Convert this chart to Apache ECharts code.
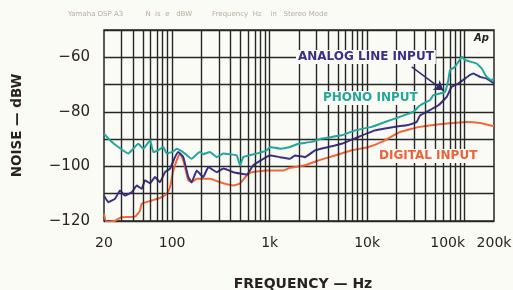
<!DOCTYPE html>
<html>
<head>
<meta charset="utf-8">
<script src="https://cdn.jsdelivr.net/npm/echarts@6/dist/echarts.min.js"></script>
<style>html,body{margin:0;padding:0;background:#fbfbf6;}#c{width:513px;height:290px;}</style>
</head>
<body>
<div id="c"></div>
<script>
// ---- data (frequency in Hz, noise in dBW) ----
var phonoInput = [[20,-88],[23,-90.4],[28,-92.9],[35.5,-95.3],[45,-91.7],[50.6,-93.5],[59.3,-90.4],[64.1,-94.7],[72.1,-94],[81.1,-92.9],[87.9,-95.3],[102.8,-94.5],[111.3,-93.5],[120,-94],[135.4,-95.3],[158.7,-97.2],[178.6,-95.5],[193,-94.7],[208.5,-95.5],[244.5,-94.7],[286,-96.6],[335,-95.3],[459,-96],[497,-99.6],[537,-96.6],[736,-95.3],[933,-94.1],[1009,-92.9],[1277,-93.5],[1617,-92.9],[1969,-91.7],[2697,-91],[3419,-89.8],[5482,-88.6],[7505,-86.8],[11130,-85.5],[15250,-83.7],[21720,-81.8],[29720,-80],[34830,-77.6],[40830,-76.3],[44160,-75.7],[47670,-73.9],[62850,-72.7],[67950,-68.4],[70770,-64.7],[79620,-63.5],[86100,-61.7],[93300,-59.8],[100900,-61],[133000,-62.3],[149600,-64.1],[168300,-67.2],[189300,-68.4],[200000,-67.8]];
var analogLineInput = [[20,-110.7],[22.1,-113.1],[25.9,-111.9],[29.2,-108.8],[32.8,-110.7],[38.5,-109.5],[43.3,-107],[48.7,-108.2],[52.7,-105.1],[59.3,-106.2],[66.7,-103.9],[75,-105.8],[84.5,-102.1],[95,-100.8],[106.9,-96.6],[115.6,-94.7],[130.1,-96.6],[146.5,-103.9],[158.7,-105.8],[178.6,-101.5],[208.5,-103.9],[235,-100.2],[286,-102.1],[335,-100.8],[424,-102.1],[582,-103],[680,-99.6],[861,-97.2],[1009,-96],[1277,-96.6],[1617,-97.2],[1820,-96],[2306,-96.6],[2918,-94.1],[3990,-92.9],[5482,-91.7],[8115,-89.2],[12030,-86.8],[15250,-86.1],[21720,-85.2],[25460,-84.9],[32210,-83.7],[34830,-81.3],[40830,-80],[53700,-77.6],[65490,-74.5],[73620,-70.8],[86100,-69.6],[100900,-67.8],[113500,-66.5],[122800,-65.9],[143600,-67.2],[168300,-67.8],[200000,-69.6]];
var digitalInput = [[20,-117.4],[21.3,-120.4],[25.9,-119.9],[30.4,-118.6],[41.6,-118.4],[46.8,-116.2],[48.7,-113.7],[61.7,-112.5],[78.1,-111.3],[87.9,-110],[95,-107.6],[102.8,-101.5],[111.3,-97.8],[120.3,-95.3],[130.1,-97.8],[146.5,-105.1],[158.7,-105.8],[178.6,-104.5],[244.5,-104.5],[310,-105.8],[424,-107],[497,-106.2],[582,-103.3],[655,-102.1],[933,-101.5],[1381,-101.5],[1617,-100.5],[2306,-99.6],[3156,-97.8],[4677,-96],[6936,-94.1],[10280,-92.9],[14100,-91],[21720,-87.4],[34830,-85.5],[65490,-84.3],[104950,-83.7],[143600,-84.1],[200000,-85.3]];
var xTickValues = [20, 100, 1000, 10000, 100000, 200000];
var xTickLabels = ['20', '100', '1k', '10k', '100k', '200k'];
var yTickLabels = [-120, -100, -80, -60];
var xMin = 20, xMax = 200000, yMin = -120, yMax = -50;
var arrowFrom = [28650, -63.5], arrowTo = [60400, -72.1];

// ---- build ----
var L = Math.log10;
function toLog(arr){ return arr.map(function(p){ return [L(p[0]), p[1]]; }); }
var gridX = [];
for (var d = 10; d <= 100000; d *= 10) {
  for (var k = 1; k <= 9; k++) {
    var f = k * d;
    if (f > xMin && f < xMax) gridX.push({xAxis: L(f)});
  }
}
var labelMap = {};
xTickValues.forEach(function(v, i){ labelMap[L(v).toFixed(6)] = xTickLabels[i]; });

var gridColor = '#262626';
var chart = echarts.init(document.getElementById('c'), null, {renderer: 'canvas'});
chart.setOption({
  backgroundColor: '#fbfbf6',
  animation: false,
  grid: {left: 104, top: 30, right: 19, bottom: 69, show: true, outerBoundsMode: 'none', containLabel: false,
         borderColor: gridColor, borderWidth: 1.5, backgroundColor: 'transparent'},
  xAxis: {
    type: 'value', min: L(xMin), max: L(xMax),
    splitLine: {show: false}, axisTick: {show: false},
    axisLine: {show: false},
    axisLabel: {
      customValues: xTickValues.map(function(v){ return L(v); }),
      margin: 15, color: '#2a231d', fontSize: 14, fontFamily: 'DejaVu Sans',
      formatter: function(v){
        var s = labelMap[Number(v).toFixed(6)] || '';
        if (s === '100k') return '{a|' + s + '}';
        return s;
      },
      rich: {a: {padding: [0, 34, 0, 0], fontSize: 14, color: '#2a231d', fontFamily: 'DejaVu Sans'}}
    },
    name: 'FREQUENCY \u2014 Hz', nameLocation: 'middle', nameGap: 56,
    nameTextStyle: {fontSize: 14, fontWeight: 'bold', color: '#2a231d', fontFamily: 'DejaVu Sans', padding: [0, 0, 0, 8]}
  },
  yAxis: {
    type: 'value', min: yMin, max: yMax, interval: 10,
    splitLine: {show: true, lineStyle: {color: gridColor, width: 1.4}},
    axisLine: {show: false}, axisTick: {show: false},
    axisLabel: {
      margin: 14, color: '#2a231d', fontSize: 15, fontFamily: 'DejaVu Sans',
      formatter: function(v){ return yTickLabels.indexOf(v) >= 0 ? '\u2212' + Math.abs(v) : ''; }
    },
    name: 'NOISE \u2014 dBW', nameLocation: 'middle', nameGap: 80, nameRotate: 90,
    nameTextStyle: {fontSize: 13.5, fontWeight: 'bold', color: '#2a231d', fontFamily: 'DejaVu Sans'}
  },
  series: [
    {type: 'line', data: [], silent: true,
     markLine: {silent: true, symbol: 'none', label: {show: false}, animation: false,
       lineStyle: {color: gridColor, width: 1.4, type: 'solid'}, data: gridX}},
    {name: 'DIGITAL INPUT', type: 'line', data: toLog(digitalInput), showSymbol: false, smooth: 0.15,
     lineStyle: {color: '#f2673a', width: 2}, itemStyle: {color: '#f2673a'}, z: 3},
    {name: 'ANALOG LINE INPUT', type: 'line', data: toLog(analogLineInput), showSymbol: false, smooth: 0.1,
     lineStyle: {color: '#3b2f8c', width: 2}, itemStyle: {color: '#3b2f8c'}, z: 4,
     markLine: {silent: true, symbol: ['none', 'arrow'], symbolSize: 9, label: {show: false},
       lineStyle: {color: '#2c2a6e', width: 1.5, type: 'solid'},
       data: [[{coord: [L(arrowFrom[0]), arrowFrom[1]]}, {coord: [L(arrowTo[0]), arrowTo[1]]}]]}},
    {name: 'PHONO INPUT', type: 'line', data: toLog(phonoInput), showSymbol: false, smooth: 0.1,
     lineStyle: {color: '#22a79b', width: 2}, itemStyle: {color: '#22a79b'}, z: 5}
  ],
  graphic: [
    {type: 'text', left: 68, top: 11, z: 10, style: {text: 'Yamaha DSP A3          N  is  e   dBW         Frequency  Hz    in   Stereo Mode    ', fill: '#b8aca0', font: '7px DejaVu Sans'}},
    {type: 'text', left: 296, top: 50, z: 10, style: {text: 'ANALOG LINE INPUT', fill: '#3b2f85', font: 'bold 12px DejaVu Sans', backgroundColor: '#fbfbf6', padding: [1, 2]}},
    {type: 'text', left: 321, top: 91, z: 10, style: {text: 'PHONO INPUT', fill: '#24a69b', font: 'bold 12px DejaVu Sans', backgroundColor: '#fbfbf6', padding: [1, 2]}},
    {type: 'text', left: 377, top: 149, z: 10, style: {text: 'DIGITAL INPUT', fill: '#f0603a', font: 'bold 12px DejaVu Sans', backgroundColor: '#fbfbf6', padding: [1, 2]}},
    {type: 'text', left: 474, top: 33, z: 10, style: {text: 'Ap', fill: '#222', font: 'italic bold 10px DejaVu Sans', backgroundColor: '#fbfbf6'}}
  ]
});
</script>
</body>
</html>
